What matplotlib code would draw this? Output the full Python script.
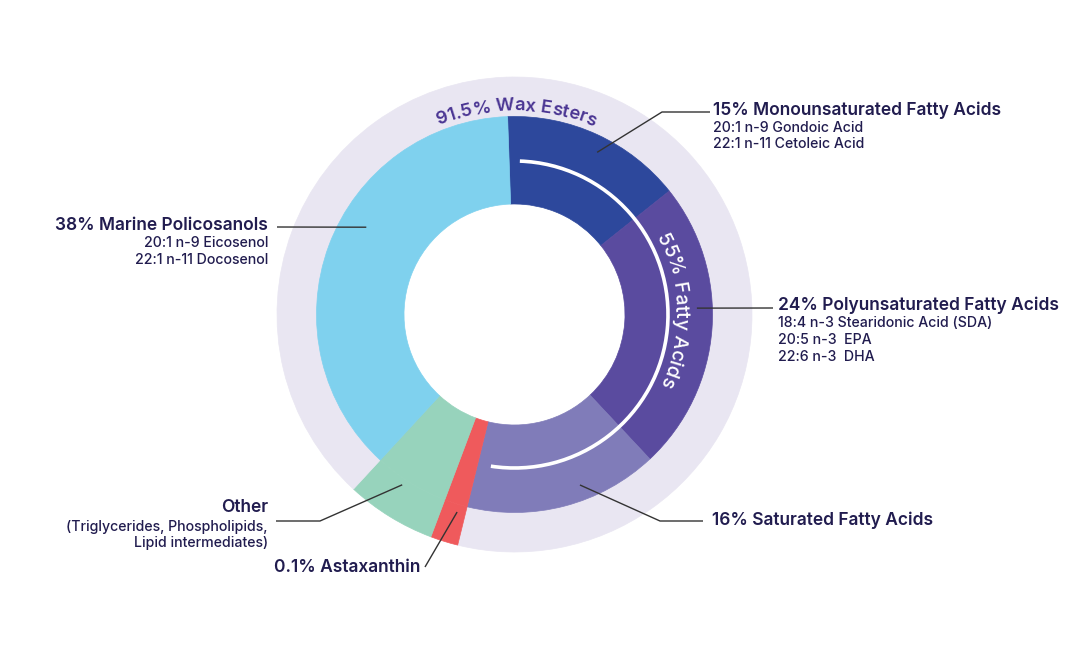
import numpy as np
import matplotlib.pyplot as plt
from matplotlib.patches import Arc

plt.rcParams['font.family'] = ['Inter', 'DejaVu Sans']

# inner ring (share of total, clockwise from the top)
inner_labels = ['Monounsaturated Fatty Acids', 'Polyunsaturated Fatty Acids',
                'Saturated Fatty Acids', 'Astaxanthin', 'Other', 'Marine Policosanols']
inner_values = [15, 24, 16, 1.9, 6.2, 38]
inner_colors = ['#2D489C', '#5A4B9F', '#807CB9', '#EF5A5C', '#97D3BC', '#7FD1EE']

# outer ring: wax esters band plus the two non-ester parts
fatty_total = sum(inner_values[:3])
outer_values = [fatty_total, inner_values[3], inner_values[4], inner_values[5]]
outer_colors = ['#E9E6F2', '#EF5A5C', '#97D3BC', '#E9E6F2']

wax_label = '91.5% Wax Esters'
fatty_label = '55% Fatty Acids'

titles = ['15% Monounsaturated Fatty Acids', '24% Polyunsaturated Fatty Acids',
          '16% Saturated Fatty Acids', '0.1% Astaxanthin', 'Other',
          '38% Marine Policosanols']
subtitles = [['20:1 n-9 Gondoic Acid', '22:1 n-11 Cetoleic Acid'],
             ['18:4 n-3 Stearidonic Acid (SDA)', '20:5 n-3  EPA', '22:6 n-3  DHA'],
             [],
             [],
             ['(Triglycerides, Phospholipids,', 'Lipid intermediates)'],
             ['20:1 n-9 Eicosenol', '22:1 n-11 Docosenol']]

W, H = 1081, 661
NAVY = '#211C4F'

fig = plt.figure(figsize=(W / 100, H / 100), dpi=100)
ax = fig.add_axes([0, 0, 1, 1])

cx, cy = 514.5, H - 314.5
r_hole, r_mid, r_out = 110.5, 198, 237.5
start = 92

wedges, _ = ax.pie(outer_values, radius=r_out, center=(cx, cy), startangle=start,
                   counterclock=False, colors=outer_colors,
                   wedgeprops=dict(width=r_out - r_mid, linewidth=0))
for w in wedges:
    w.set_edgecolor(w.get_facecolor())
    w.set_linewidth(0.5)
wedges, _ = ax.pie(inner_values, radius=r_mid, center=(cx, cy), startangle=start,
                   counterclock=False, colors=inner_colors,
                   wedgeprops=dict(width=r_mid - r_hole, linewidth=0))
for w in wedges:
    w.set_edgecolor(w.get_facecolor())
    w.set_linewidth(0.5)

ax.set_xlim(0, W)
ax.set_ylim(0, H)
ax.set_aspect('equal')
ax.axis('off')

# white arc over the fatty acids
span = fatty_total / sum(inner_values) * 360
ax.add_patch(Arc((cx, cy), 2 * 153.5, 2 * 153.5, theta1=start - span + 5, theta2=start - 4,
                 color='white', lw=2.6))

renderer = fig.canvas.get_renderer()


def text_width(s, size, weight):
    t = ax.text(0, 0, s + 'x', fontsize=size, fontweight=weight)
    w = t.get_window_extent(renderer).width
    t.remove()
    return w


def curved_text(s, r, center_deg, size, color, weight='medium'):
    base = text_width('', size, weight)
    total = text_width(s, size, weight) - base
    for i, ch in enumerate(s):
        if ch == ' ':
            continue
        left = text_width(s[:i], size, weight) - base
        right = text_width(s[:i + 1], size, weight) - base
        mid = (left + right) / 2
        th = center_deg + np.degrees((total / 2 - mid) / r)
        x = cx + r * np.cos(np.radians(th))
        y = cy + r * np.sin(np.radians(th))
        ax.text(x, y, ch, rotation=th - 90, ha='center', va='baseline',
                rotation_mode='anchor', fontsize=size, color=color, fontweight=weight)


curved_text(wax_label, 204, 89.6, 13.2, '#4A3593', weight='semibold')
curved_text(fatty_label, 161, 1.5, 14, 'white', weight='medium')


def polar(ang, rad):
    return cx + rad * np.cos(np.radians(ang)), cy + rad * np.sin(np.radians(ang))


# leader lines: anchor (angle, radius), then image-space elbow and end
leaders = [
    ((63, 182), [(662, 112), (710, 112)]),
    ((2, 182.5), [(773, 308)]),
    ((-69, 182.6), [(660, 521), (703, 521)]),
    ((-106.2, 205.7), [(425, 567)]),
    ((-123.4, 204), [(320, 521), (276, 521)]),
    ((149.5, 172), [(277, 227)]),
]
for (ang, rad), pts in leaders:
    xs = [polar(ang, rad)[0]] + [p[0] for p in pts]
    ys = [polar(ang, rad)[1]] + [H - p[1] for p in pts]
    ax.plot(xs, ys, color='#333333', lw=1.0, solid_capstyle='butt')

# label blocks: x, title y, ha, sub y list
blocks = [
    (713, 110, 'left', [128, 144]),
    (778, 305, 'left', [323, 340, 357]),
    (712, 520, 'left', []),
    (420, 568, 'right', []),
    (268, 508, 'right', [527, 543]),
    (268, 225, 'right', [243, 260]),
]
for (x, ty, ha, sys), title, subs in zip(blocks, titles, subtitles):
    ax.text(x, H - ty, title, ha=ha, va='center', fontsize=12.5, color=NAVY,
            fontweight='semibold')
    for sy, sub in zip(sys, subs):
        ax.text(x, H - sy, sub, ha=ha, va='center', fontsize=10.2, color=NAVY,
                fontweight='medium')

fig.savefig('out.png', dpi=100, facecolor='white')
